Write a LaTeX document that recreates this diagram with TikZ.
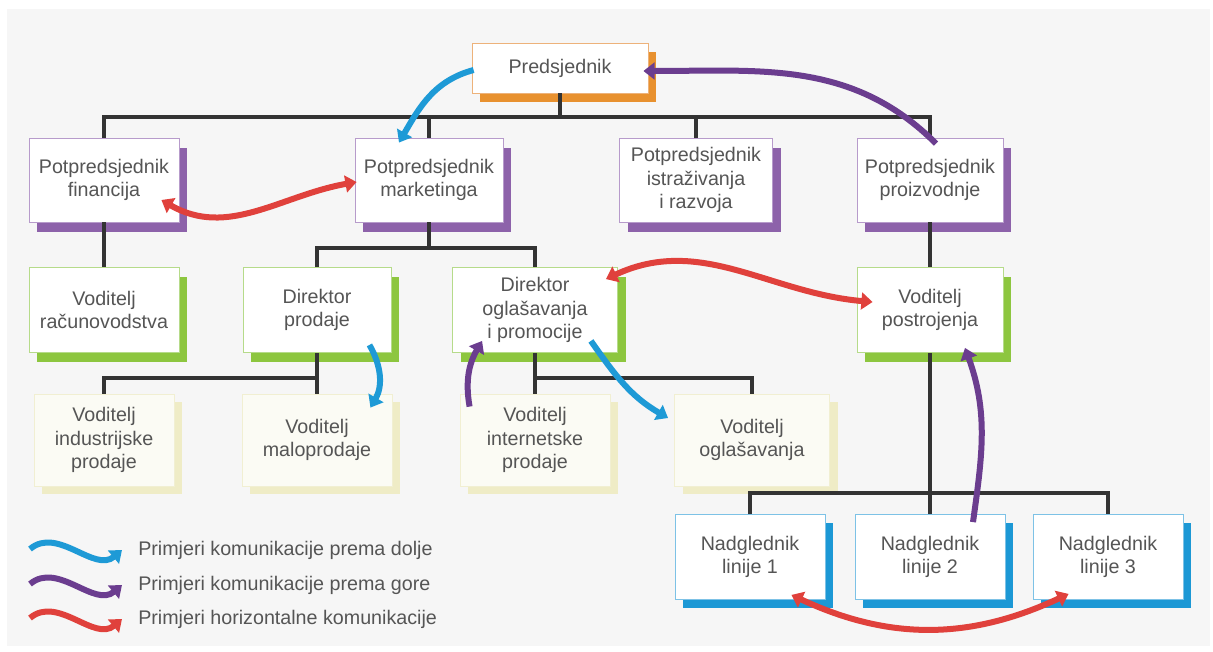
\documentclass[tikz,border=0pt]{standalone}
\usepackage{fontspec}
\setmainfont{Liberation Sans}
\usepackage{tikz}
\usetikzlibrary{arrows.meta, shadows, calc}

\definecolor{bgcol}{HTML}{F6F6F6}
\definecolor{txtcol}{HTML}{555555}
\definecolor{linecol}{HTML}{333333}
\definecolor{predshade}{HTML}{E8912F}
\definecolor{predline}{HTML}{EDB27A}
\definecolor{vpshade}{HTML}{8D62AA}
\definecolor{vpline}{HTML}{B79BCB}
\definecolor{dirshade}{HTML}{8DC63F}
\definecolor{dirline}{HTML}{B6DB8A}
\definecolor{vodshade}{HTML}{EFECC6}
\definecolor{vodline}{HTML}{F1EFD2}
\definecolor{vodfill}{HTML}{FBFBF4}
\definecolor{nadshade}{HTML}{1C98D5}
\definecolor{nadline}{HTML}{7DC2E6}
\definecolor{arrblue}{HTML}{1E9AD6}
\definecolor{arrpurple}{HTML}{6B3D8F}
\definecolor{arrred}{HTML}{E0413C}

\tikzset{
  ctip/.tip={Triangle[length=2.8mm,width=4.2mm]},
  box/.style={rectangle, fill=white, line width=0.6pt, text=txtcol, align=center,
    inner sep=0pt, font=\fontsize{14}{16.5}\selectfont},
  predbox/.style={box, draw=predline,
    drop shadow={shadow xshift=2mm, shadow yshift=-2.2mm, fill=predshade, opacity=1}},
  vpbox/.style={box, draw=vpline, minimum width=37.5mm, minimum height=21mm,
    drop shadow={shadow xshift=2mm, shadow yshift=-2.4mm, fill=vpshade, opacity=1}},
  dirbox/.style={box, draw=dirline, minimum width=37.5mm, minimum height=21.25mm,
    drop shadow={shadow xshift=2mm, shadow yshift=-2.4mm, fill=dirshade, opacity=1}},
  vodbox/.style={box, draw=vodline, fill=vodfill, minimum width=37.5mm, minimum height=23mm,
    drop shadow={shadow xshift=2mm, shadow yshift=-2mm, fill=vodshade, opacity=1}},
  nadbox/.style={box, draw=nadline, minimum width=37.5mm, minimum height=21.25mm,
    drop shadow={shadow xshift=2mm, shadow yshift=-2.2mm, fill=nadshade, opacity=1}},
  conn/.style={draw=linecol, line width=2.2pt},
  arrbase/.style={line width=1.5mm},
  downarr/.style={arrbase, draw=arrblue, -ctip},
  uparr/.style={arrbase, draw=arrpurple, -ctip},
  horarr/.style={arrbase, draw=arrred, ctip-ctip},
  legtext/.style={text=txtcol, anchor=west, inner sep=0pt, font=\fontsize{14}{16.5}\selectfont},
}

\begin{document}
\begin{tikzpicture}[x=0.25mm, y=0.25mm]
\useasboundingbox (0,0) rectangle (1213,-651);
\fill[white] (0,0) rectangle (1213,-651);
\fill[bgcol] (7,-9) rectangle (1210,-646);

\node[predbox, minimum width=44mm, minimum height=12.5mm] (pred) at (560,-68) {Predsjednik};

\node[vpbox] (vpfin) at (104,-180) {Potpredsjednik\\financija};
\node[vpbox, minimum width=37mm] (vpmark) at (429,-180) {Potpredsjednik\\marketinga};
\node[vpbox, minimum width=38.25mm] (vpistr) at (696,-180) {Potpredsjednik\\istraživanja\\i razvoja};
\node[vpbox, minimum width=36.5mm] (vpproi) at (930,-180) {Potpredsjednik\\proizvodnje};

\node[dirbox] (vracun) at (104,-310) {Voditelj\\računovodstva};
\node[dirbox, minimum width=37mm] (dirprod) at (317,-310) {Direktor\\prodaje};
\node[dirbox, minimum width=41.25mm] (dirogl) at (535,-310) {Direktor\\oglašavanja\\i promocije};
\node[dirbox, minimum width=36.5mm] (vpostr) at (930,-310) {Voditelj\\postrojenja};

\node[vodbox, minimum width=35mm] (vindus) at (104,-440) {Voditelj\\industrijske\\prodaje};
\node[vodbox] (vmalo) at (317,-440) {Voditelj\\maloprodaje};
\node[vodbox] (vinter) at (535,-440) {Voditelj\\internetske\\prodaje};
\node[vodbox, minimum width=38.75mm] (vogl) at (752,-440) {Voditelj\\oglašavanja};

\node[nadbox] (nad1) at (750,-557) {Nadglednik\\linije 1};
\node[nadbox] (nad2) at (930,-557) {Nadglednik\\linije 2};
\node[nadbox] (nad3) at (1108,-557) {Nadglednik\\linije 3};

\coordinate (bus1) at (0,-117);
\coordinate (bus2) at (0,-248);
\coordinate (bus3) at (0,-378);
\coordinate (bus4) at (0,-493);

\draw[conn] (pred.south) -- (pred.south |- bus1);
\draw[conn] (vpfin.north) |- (bus1 -| vpproi.north) -- (vpproi.north);
\draw[conn] (vpmark.north) -- (vpmark.north |- bus1);
\draw[conn] (vpistr.north) -- (vpistr.north |- bus1);

\draw[conn] (vpfin.south) -- (vracun.north);
\draw[conn] (vpmark.south) -- (vpmark.south |- bus2);
\draw[conn] (dirprod.north) |- (bus2 -| dirogl.north) -- (dirogl.north);
\draw[conn] (vpproi.south) -- (vpostr.north);

\draw[conn] (dirprod.south) -- (dirprod.south |- bus3);
\draw[conn] (vindus.north) |- (bus3 -| vmalo.north) -- (vmalo.north);
\draw[conn] (dirogl.south) -- (vinter.north);
\draw[conn] (vinter.north |- bus3) -| (vogl.north);

\draw[conn] (vpostr.south) -- (nad2.north);
\draw[conn] (nad1.north) |- (bus4 -| nad3.north) -- (nad3.north);

\draw[downarr] ($(pred.west)+(2,-2)$) to[out=195,in=60] ($(vpmark.north)+(-30,-5)$);
\draw[uparr] ($(vpproi.north)+(6,-6)$) to[out=135,in=0] ($(pred.east)+(-5,-3)$);
\draw[horarr] ($(vpfin.east)+(-18,-20)$) to[out=-30,in=190] ($(vpmark.west)+(2,-2)$);
\draw[downarr] ($(dirprod.south east)+(-22,8)$) to[out=-60,in=60] ($(vmalo.north east)+(-22,-14)$);
\draw[uparr] ($(vinter.north west)+(10,-13)$) to[out=100,in=-120] ($(dirogl.south west)+(30,12)$);
\draw[downarr] ($(dirogl.south east)+(-27,12)$) to[out=-55,in=150] ($(vogl.west)+(-6,22)$);
\draw[horarr] ($(dirogl.north east)+(-12,-12)$) to[out=25,in=175] ($(vpostr.west)+(16,8)$);
\draw[uparr] ($(nad2.north)+(43,-8)$) to[out=82,in=-70] ($(vpostr.south)+(35,5)$);
\draw[horarr] ($(nad1.south east)+(-34,5)$) to[out=-25,in=-155] ($(nad3.south west)+(36,6)$);

\node[legtext] (leg1) at (138,-550) {Primjeri komunikacije prema dolje};
\node[legtext] (leg2) at (138,-585) {Primjeri komunikacije prema gore};
\node[legtext] (leg3) at (138,-619) {Primjeri horizontalne komunikacije};
\draw[downarr] ($(leg1.west)+(-108,1)$) to[out=40,in=220] ($(leg1.west)+(-16,0)$);
\draw[uparr] ($(leg2.west)+(-108,1)$) to[out=40,in=220] ($(leg2.west)+(-16,0)$);
\draw[horarr, -ctip] ($(leg3.west)+(-108,1)$) to[out=40,in=220] ($(leg3.west)+(-16,0)$);
\end{tikzpicture}
\end{document}
